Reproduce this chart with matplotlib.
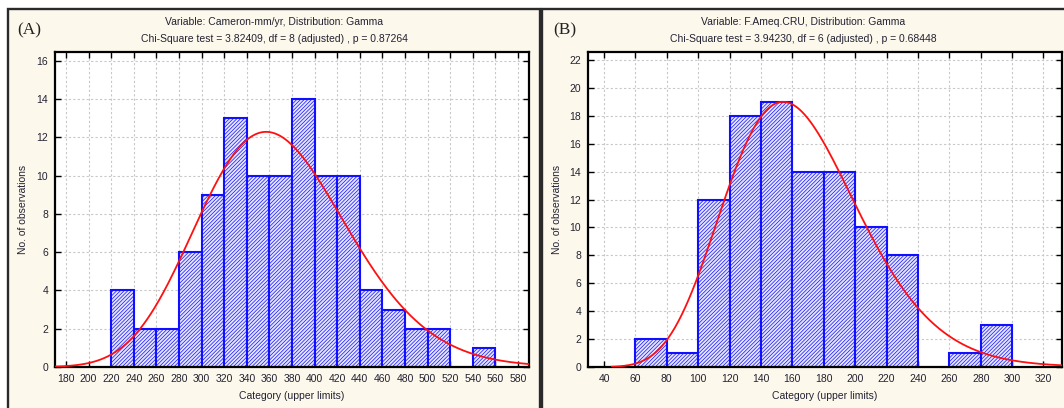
import math
import numpy as np
import matplotlib
matplotlib.use("Agg")
import matplotlib.pyplot as plt
from matplotlib.patches import Rectangle

# ---- data -------------------------------------------------------------
bin_width = 20

cam_edges = [220, 240, 260, 280, 300, 320, 340, 360, 380, 400,
             420, 440, 460, 480, 500, 520, 540]
cam_counts = [4, 2, 2, 6, 9, 13, 10, 10, 14, 10, 10, 4, 3, 2, 2, 0, 1]
cam_gamma_shape = 30.27
cam_gamma_scale = 12.20
cam_xticks = list(range(180, 581, 20))
cam_yticks = list(range(0, 17, 2))

cru_edges = [60, 80, 100, 120, 140, 160, 180, 200, 220, 240, 260, 280]
cru_counts = [2, 1, 12, 18, 19, 14, 14, 10, 8, 0, 1, 3]
cru_gamma_shape = 14.1
cru_gamma_scale = 11.76
cru_xticks = list(range(40, 321, 20))
cru_yticks = list(range(0, 23, 2))

titles_a = ["Variable: Cameron-mm/yr, Distribution: Gamma",
            "Chi-Square test = 3.82409, df = 8 (adjusted) , p = 0.87264"]
titles_b = ["Variable: F.Ameq.CRU, Distribution: Gamma",
            "Chi-Square test = 3.94230, df = 6 (adjusted) , p = 0.68448"]

# ---- figure -----------------------------------------------------------
W, H = 1064, 408
plt.rcParams["font.family"] = ["Liberation Sans", "DejaVu Sans"]
plt.rcParams["hatch.linewidth"] = 0.5
fig = plt.figure(figsize=(W / 100, H / 100), dpi=100)
fig.patch.set_facecolor("white")

cream = "#fdf8ec"


def px(x0, y0, x1, y1):
    """Pixel box (top-left origin) -> figure fraction rect."""
    return [x0 / W, 1 - y1 / H, (x1 - x0) / W, (y1 - y0) / H]


# panel frames
for x0, x1 in [(8, 539.5), (541.5, 1075)]:
    fig.patches.append(Rectangle((x0 / W, -0.05), (x1 - x0) / W, 1.05 - 9.5 / H,
                                 transform=fig.transFigure, facecolor=cream,
                                 edgecolor="#2a2a2a", linewidth=1.7, zorder=-10))


def gamma_counts(x, k, theta, n):
    logpdf = (k - 1) * np.log(x) - x / theta - math.lgamma(k) - k * math.log(theta)
    return n * bin_width * np.exp(logpdf)


def draw(rect, edges, counts, k, theta, xlim, ylim, xticks, yticks,
         titles, panel_cx, label, label_x, ylab_x, curve_start):
    ax = fig.add_axes(px(*rect))
    ax.set_facecolor("white")
    e = [a for a, c in zip(edges, counts) if c > 0]
    c = [c for c in counts if c > 0]
    ax.bar(e, c, width=bin_width, align="edge", facecolor="#e4e4ff",
           edgecolor="#1010ff", hatch="/" * 9, linewidth=1.5, zorder=2)
    n = sum(counts)
    xs = np.linspace(curve_start, xlim[1], 400)
    ax.plot(xs, gamma_counts(xs, k, theta, n), color="#ff1010", lw=1.3, zorder=3)
    ax.set_xlim(*xlim)
    ax.set_ylim(*ylim)
    ax.set_xticks(xticks)
    ax.set_yticks(yticks)
    ax.grid(True, color="#c8c8c8", linestyle=(0, (2, 2)), linewidth=0.8, zorder=0)
    ax.set_axisbelow(True)
    ax.tick_params(direction="in", length=4, width=1, top=True, right=True,
                   labelsize=7.5, labelcolor="#222233", pad=5)
    for s in ax.spines.values():
        s.set_linewidth(1.6)
        s.set_color("black")
    ax.set_xlabel("Category (upper limits)", fontsize=7.5, color="#222233", labelpad=5)
    fig.text(ylab_x / W, 1 - ((rect[1] + rect[3]) / 2) / H, "No. of observations",
             rotation=90, ha="center", va="center", fontsize=7.5, color="#222233")
    fig.text(panel_cx / W, 1 - 22 / H, titles[0], ha="center", va="center",
             fontsize=7.5, color="#222233")
    fig.text(panel_cx / W, 1 - 39 / H, titles[1], ha="center", va="center",
             fontsize=7.5, color="#222233")
    fig.text(label_x / W, 1 - 30 / H, label, ha="left", va="center",
             fontsize=12.5, family=["Liberation Serif", "DejaVu Serif"], color="#222222")
    return ax


draw((55, 52, 529, 367), cam_edges, cam_counts, cam_gamma_shape, cam_gamma_scale,
     (170.3, 589.7), (0, 16.47), cam_xticks, cam_yticks,
     titles_a, 274, "(A)", 17, 23, 171)
draw((588, 52, 1062, 367), cru_edges, cru_counts, cru_gamma_shape, cru_gamma_scale,
     (29.8, 331.8), (0, 22.57), cru_xticks, cru_yticks,
     titles_b, 803, "(B)", 553, 557, 45)

fig.savefig("out.png", dpi=100, facecolor=fig.get_facecolor())
